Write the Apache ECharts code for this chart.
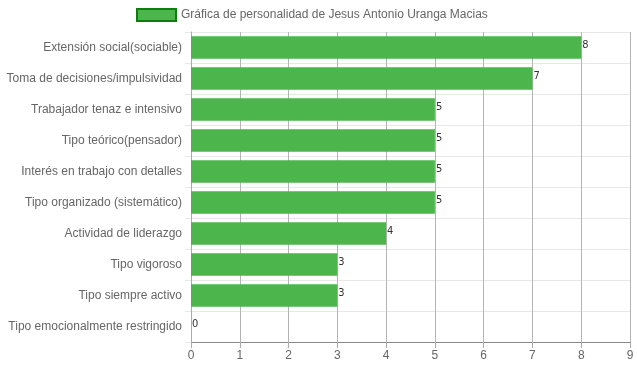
<!DOCTYPE html>
<html><head><meta charset="utf-8">
<script src="https://cdn.jsdelivr.net/npm/echarts@6/dist/echarts.min.js"></script>
<style>html,body{margin:0;padding:0;background:#fff}#c{width:637px;height:371px}</style>
</head><body><div id="c"></div>
<script>
const categories = [
  "Extensión social(sociable)",
  "Toma de decisiones/impulsividad",
  "Trabajador tenaz e intensivo",
  "Tipo teórico(pensador)",
  "Interés en trabajo con detalles",
  "Tipo organizado (sistemático)",
  "Actividad de liderazgo",
  "Tipo vigoroso",
  "Tipo siempre activo",
  "Tipo emocionalmente restringido"
];
const values = [8, 7, 5, 5, 5, 5, 4, 3, 3, 0];
const seriesName = "Gráfica de personalidad de Jesus Antonio Uranga Macias";

const chart = echarts.init(document.getElementById('c'));
chart.setOption({
  animation: false,
  textStyle: { fontFamily: 'Liberation Sans, Arial, sans-serif' },
  legend: {
    top: 8, left: 136, padding: 0,
    icon: 'rect', itemWidth: 39, itemHeight: 12, itemGap: 7,
    textStyle: { color: '#666', fontSize: 12, fontFamily: 'Liberation Sans, Arial' },
    data: [{ name: seriesName, itemStyle: { color: '#4cb54c', borderColor: '#0d7d0d', borderWidth: 2 } }]
  },
  grid: { left: 191, right: 7, top: 32, bottom: 29 },
  xAxis: {
    type: 'value', min: 0, max: 9, interval: 1,
    axisLine: { show: true, lineStyle: { color: '#888' } },
    axisTick: { show: true, length: 6, lineStyle: { color: '#aaa' } },
    axisLabel: { color: '#666', fontSize: 12, margin: 8 },
    splitLine: { show: true, lineStyle: { color: '#b4b4b4' } }
  },
  yAxis: {
    type: 'category', data: categories, inverse: true,
    axisLine: { show: true, lineStyle: { color: '#aaa' } },
    axisTick: { show: true, length: 6, lineStyle: { color: '#e8e8e8' } },
    axisLabel: { color: '#666', fontSize: 12, margin: 9 },
    splitLine: { show: true, lineStyle: { color: '#e8e8e8' } }
  },
  series: [{
    name: seriesName, type: 'bar', data: values,
    barCategoryGap: '28%',
    itemStyle: { color: '#4cb54c' },
    label: { show: true, position: 'right', distance: 1, offset: [0, -2], color: '#333', fontSize: 11,
      fontFamily: 'Liberation Sans Narrow, DejaVu Sans Condensed, sans-serif' }
  }]
});
</script></body></html>
